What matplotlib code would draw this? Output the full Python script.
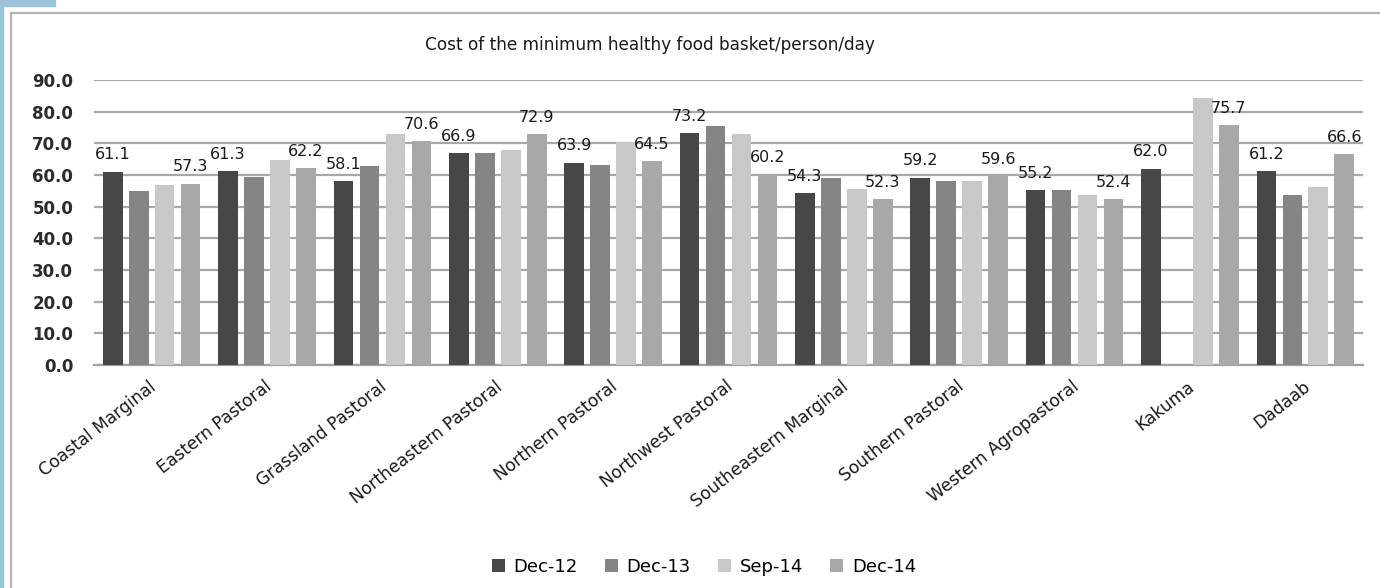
import numpy as np
import matplotlib
matplotlib.use("Agg")
import matplotlib.pyplot as plt
from matplotlib.lines import Line2D
from matplotlib.patches import Rectangle
import matplotlib.transforms as mtransforms

categories = ["Coastal Marginal", "Eastern Pastoral", "Grassland Pastoral",
              "Northeastern Pastoral", "Northern Pastoral", "Northwest Pastoral",
              "Southeastern Marginal", "Southern Pastoral", "Western Agropastoral",
              "Kakuma", "Dadaab"]
series_names = ["Dec-12", "Dec-13", "Sep-14", "Dec-14"]
dec12 = [61.1, 61.3, 58.1, 66.9, 63.9, 73.2, 54.3, 59.2, 55.2, 62.0, 61.2]
dec13 = [55.0, 59.4, 62.9, 67.0, 63.3, 75.5, 59.0, 58.0, 55.2, np.nan, 53.6]
sep14 = [56.9, 64.7, 73.0, 67.9, 70.5, 73.1, 55.5, 58.0, 53.6, 84.2, 56.3]
dec14 = [57.3, 62.2, 70.6, 72.9, 64.5, 60.2, 52.3, 59.6, 52.4, 75.7, 66.6]
labeled = [True, False, False, True]
yticks = [0, 10, 20, 30, 40, 50, 60, 70, 80, 90]
title = "Cost of the minimum healthy food basket/person/day"

colors = ["#474747", "#858585", "#c8c8c8", "#a8a8a8"]

W, H = 1380, 588
fig = plt.figure(figsize=(W / 100, H / 100), dpi=100)
fig.patch.set_facecolor("white")

# axes placement in pixels
L, R, T, B = 94, 1363, 80, 365
ax = fig.add_axes([L / W, 1 - B / H, (R - L) / W, (B - T) / H])

data = [dec12, dec13, sep14, dec14]
n = len(categories)
x = np.arange(n)
pitch = 0.225
bw = 0.17
for i, (vals, c) in enumerate(zip(data, colors)):
    offs = (i - 1.5) * pitch
    ax.bar(x + offs, vals, width=bw, color=c, zorder=3, label=series_names[i])
    if labeled[i]:
        for xi, v in zip(x + offs, vals):
            if np.isnan(v):
                continue
            ax.annotate(f"{v:.1f}", (xi, v), xytext=(0, 12), textcoords="offset points",
                        ha="center", va="center", fontsize=11.5, color="#1a1a1a",
                        family="DejaVu Sans", zorder=5)

ax.set_xlim(-0.5, n - 0.5)
ax.set_ylim(0, 90)
ax.set_yticks(yticks)
ax.set_yticklabels([f"{t:.1f}" for t in yticks], fontsize=12, fontweight="bold",
                   color="#2b2b2b", family="DejaVu Sans")
ax.yaxis.grid(True, color="#a8a8a8", linewidth=1.6, zorder=0)
ax.set_axisbelow(True)
ax.tick_params(axis="y", length=0, pad=15)
ax.tick_params(axis="x", length=0, pad=9)
for s in ["top", "right", "left"]:
    ax.spines[s].set_visible(False)
ax.spines["bottom"].set_color("#a0a0a0")
ax.spines["bottom"].set_linewidth(1.6)

ax.set_xticks(x)
ax.set_xticklabels(categories, rotation=38, ha="right", va="top", rotation_mode="anchor",
                   fontsize=12.3, family="DejaVu Sans", color="#1a1a1a")
off = mtransforms.ScaledTranslation(-3 / 100, 0, fig.dpi_scale_trans)
for lbl in ax.get_xticklabels():
    lbl.set_transform(lbl.get_transform() + off)

fig.text(650 / W, 1 - 45 / H, title, ha="center", va="center", fontsize=12.2,
         family="DejaVu Sans", color="#1a1a1a")

leg = fig.legend(loc="center", bbox_to_anchor=(704 / W, 1 - 567 / H), ncol=4,
                 frameon=False, handlelength=0.7, handleheight=0.7,
                 handletextpad=0.5, columnspacing=1.5,
                 prop={"family": "DejaVu Sans", "size": 13})

# frame decorations
fig.add_artist(Rectangle((0, 0), 3 / W, 1, transform=fig.transFigure,
                         color="#9dc3da", zorder=0))
fig.add_artist(Rectangle((0, 1 - 5.5 / H), 55 / W, 5.5 / H, transform=fig.transFigure,
                         color="#9dc3da", zorder=0))
fig.add_artist(Line2D([11 / W, 11 / W], [0, 1 - 13 / H], transform=fig.transFigure,
                      color="#b4b4b4", linewidth=1.6))
fig.add_artist(Line2D([11 / W, 1], [1 - 13 / H, 1 - 13 / H], transform=fig.transFigure,
                      color="#b4b4b4", linewidth=1.6))

fig.savefig("out.png", dpi=100)
